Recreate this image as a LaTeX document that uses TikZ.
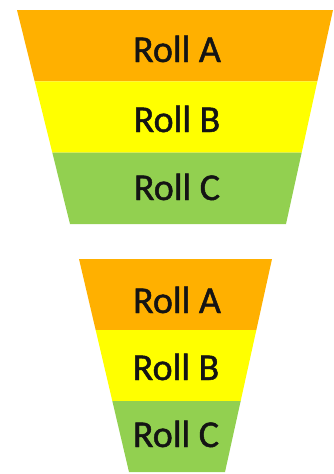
\documentclass[tikz,border=0pt]{standalone}
\usepackage{fontspec}
\setmainfont{Carlito}
\newfontfamily\rollfont[FakeBold=1.2]{Carlito}
\usetikzlibrary{calc}
\definecolor{rollA}{HTML}{FFB000}
\definecolor{rollB}{HTML}{FFFF00}
\definecolor{rollC}{HTML}{92D050}
\begin{document}
\begin{tikzpicture}[x=1pt,y=-1pt,
  rolltext/.style={anchor=base,inner sep=0pt,font=\rollfont\fontsize{38}{38}\selectfont,text=black!92}]
\useasboundingbox (0,0) rectangle (334,474);

% wide funnel
\coordinate (a1) at (17,10);  \coordinate (b1) at (333,10);
\coordinate (c1) at (70,224); \coordinate (d1) at (286,224);
% narrow funnel
\coordinate (a2) at (79,259);  \coordinate (b2) at (272,259);
\coordinate (c2) at (129,472); \coordinate (d2) at (225,472);

\foreach \f in {1,2}{
  \fill[rollA] (a\f) -- (b\f) -- ($(b\f)!1/3!(d\f)$) -- ($(a\f)!1/3!(c\f)$) -- cycle;
  \fill[rollB] ($(a\f)!1/3!(c\f)$) -- ($(b\f)!1/3!(d\f)$) -- ($(b\f)!2/3!(d\f)$) -- ($(a\f)!2/3!(c\f)$) -- cycle;
  \fill[rollC] ($(a\f)!2/3!(c\f)$) -- ($(b\f)!2/3!(d\f)$) -- (d\f) -- (c\f) -- cycle;
}

\node[rolltext] (ra1) at (177,62)  {Roll A};
\node[rolltext] (rb1) at (177,132) {Roll B};
\node[rolltext] (rc1) at (177,200) {Roll C};
\node[rolltext] (ra2) at (177,313) {Roll A};
\node[rolltext] (rb2) at (176,380) {Roll B};
\node[rolltext] (rc2) at (176,447) {Roll C};
\end{tikzpicture}
\end{document}
